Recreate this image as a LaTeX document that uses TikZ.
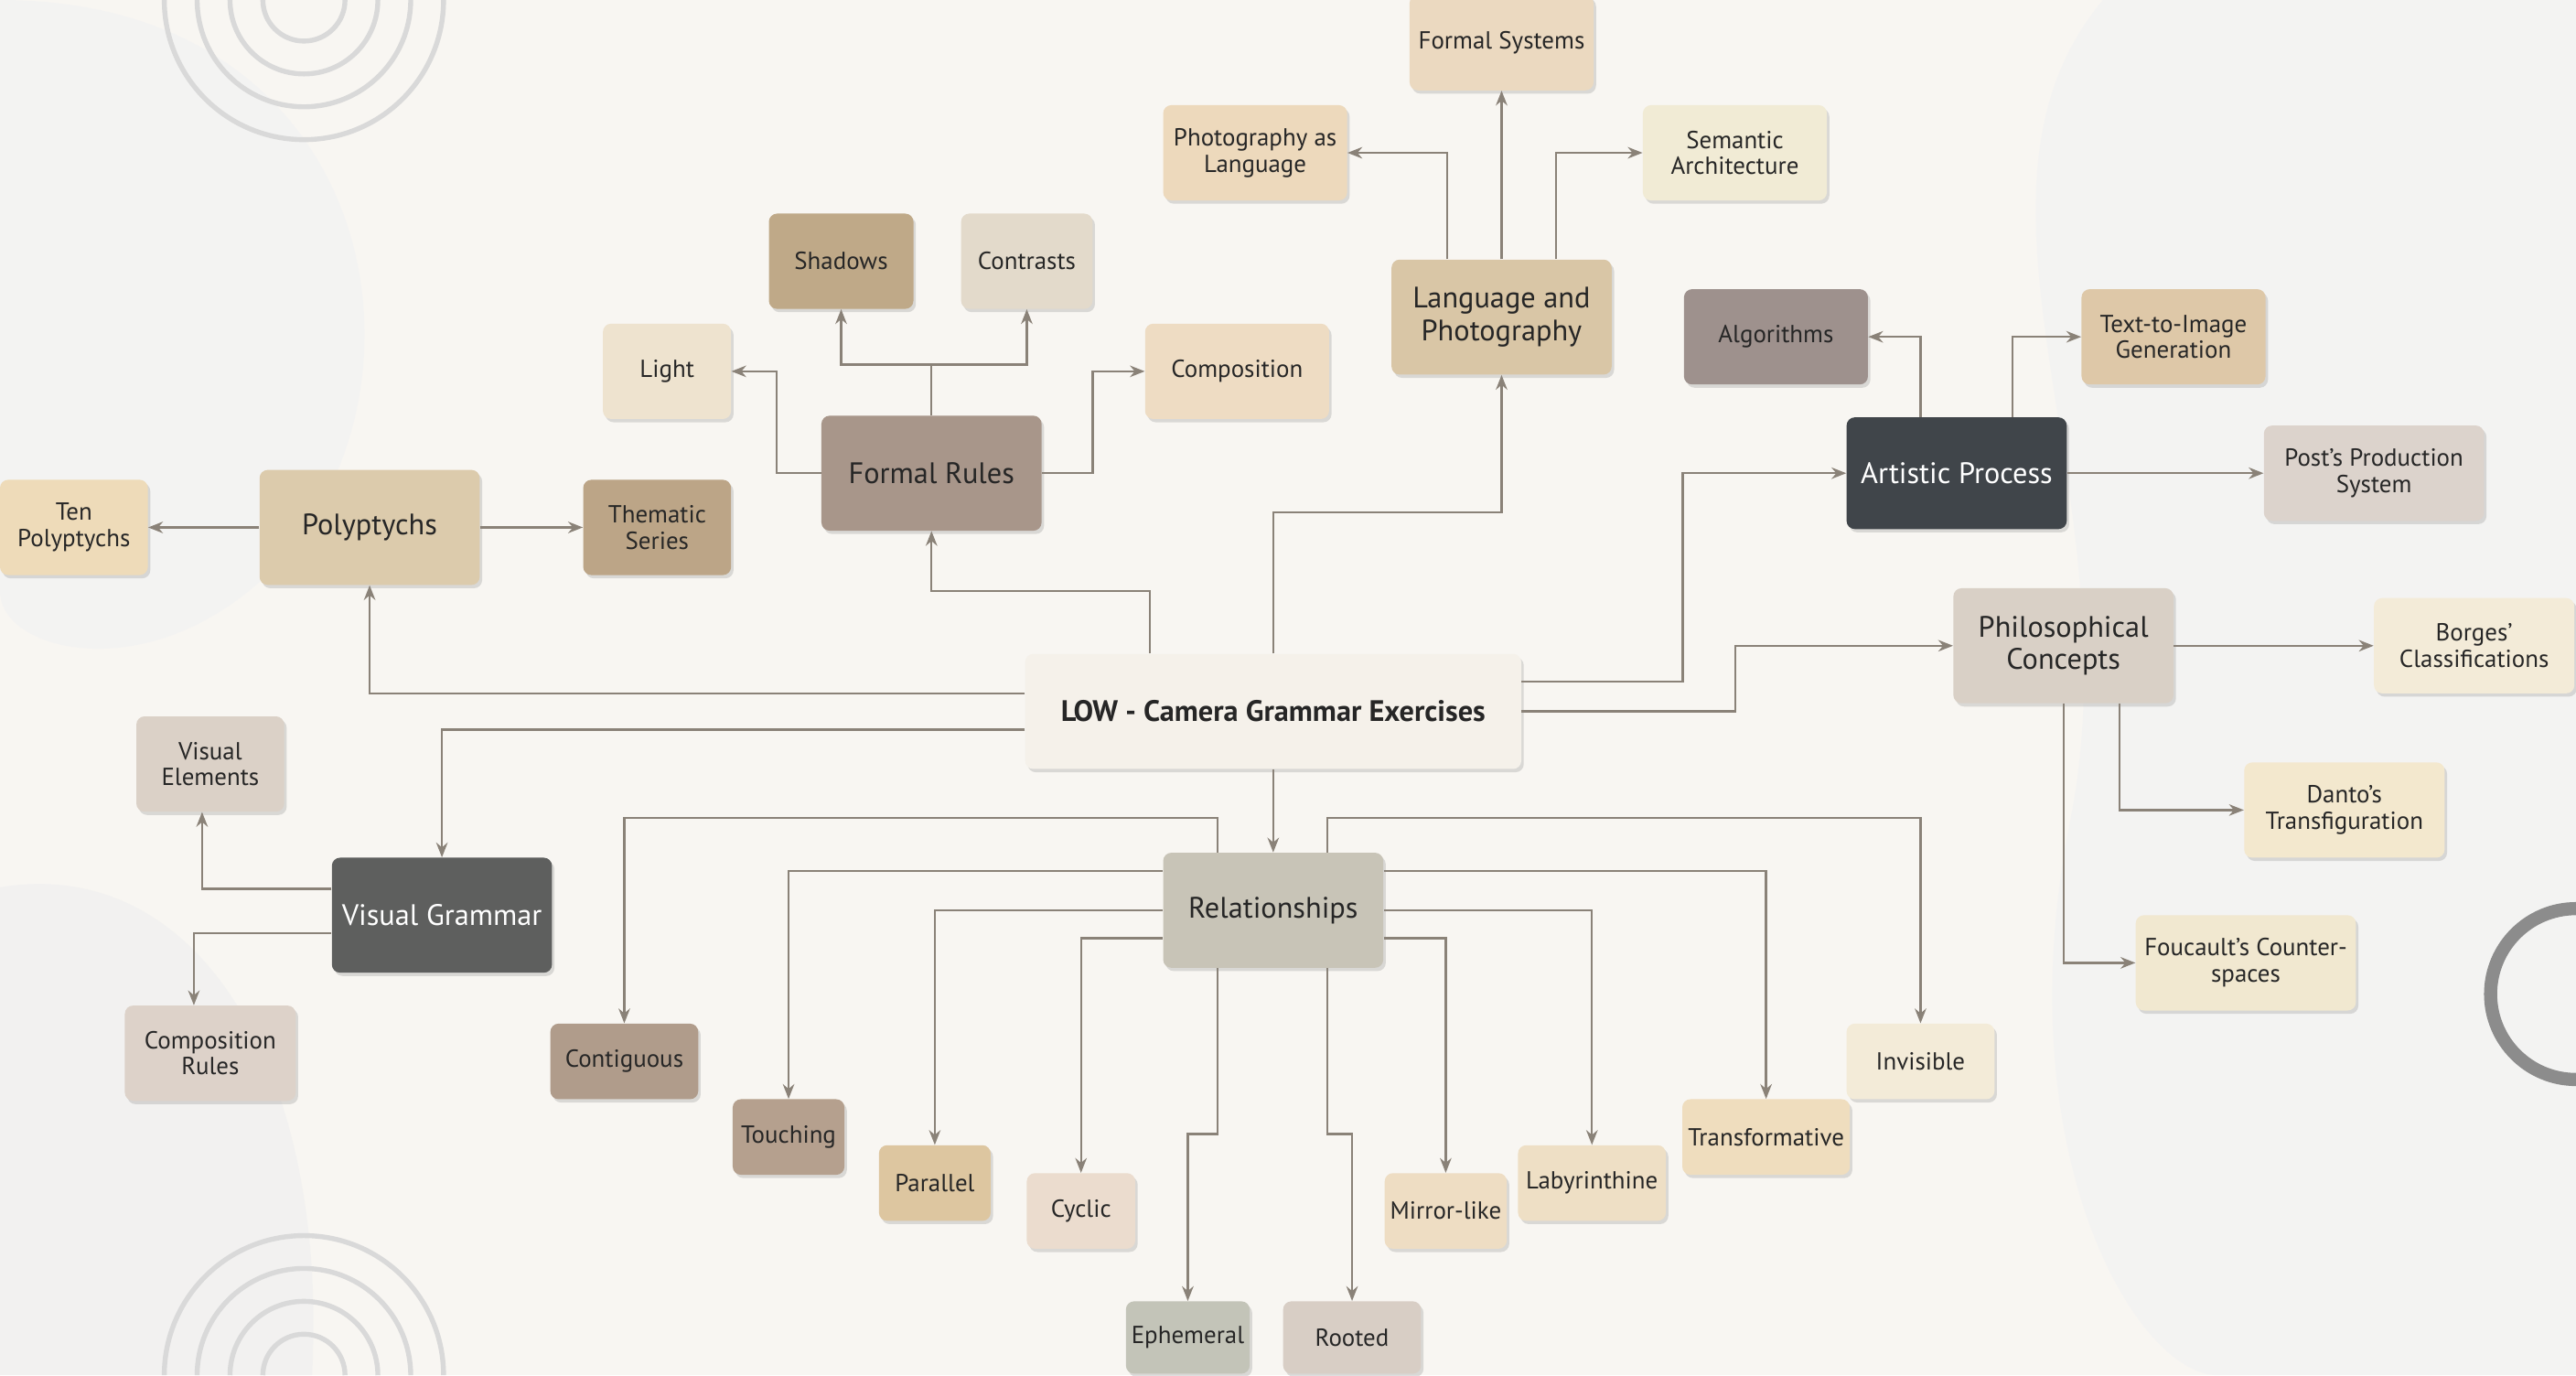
\documentclass[tikz,border=0pt]{standalone}
\usepackage{fontspec}
\setmainfont{PT Sans}
\usetikzlibrary{shadows,arrows.meta}
\definecolor{bg}{HTML}{F8F6F2}
\definecolor{edge}{HTML}{8A8278}
\tikzset{
 hx/.code={\definecolor{c#1}{HTML}{#1}\pgfkeysalso{fill=c#1}},
 box/.style={draw=none,rounded corners=5pt,align=center,font=\fontsize{15}{16}\selectfont,text=black!85,
   drop shadow={shadow xshift=1.5pt,shadow yshift=-2pt,opacity=0.25}},
 big/.style={box,minimum width=134pt,minimum height=70pt,font=\fontsize{18}{20}\selectfont},
 sm/.style={box,minimum height=58pt},
 xs/.style={box,minimum height=46pt},
 con/.style={draw=edge,line width=1.3pt,-{Stealth[length=9pt,width=7pt]}},
}
\begin{document}
\begin{tikzpicture}[x=1pt,y=-1pt]
\fill[bg] (0,0) rectangle (1568,837);
\useasboundingbox (0,0) rectangle (1568,837);
% decorative background
\fill[black!5,opacity=0.7] (0,0) .. controls (260,0) and (280,300) .. (120,380) .. controls (60,410) and (0,390) .. (0,360) -- cycle;
\fill[black!5,opacity=0.7] (1568,0) -- (1280,0) .. controls (1180,120) and (1300,300) .. (1260,500) .. controls (1220,700) and (1300,837) .. (1350,837) -- (1568,837) -- cycle;
\fill[black!6,opacity=0.7] (0,540) .. controls (120,520) and (200,650) .. (190,837) -- (0,837) -- cycle;
\foreach \r in {25,45,65,85}{\draw[black!15,line width=3pt] (185-\r,0) arc (180:0:\r);}
\foreach \r in {25,45,65,85}{\draw[black!15,line width=3pt] (185-\r,837) arc (180:360:\r);}
\draw[black!45,line width=8pt] (1568,605) circle (52);
% nodes
\node[sm,minimum width=112pt,hx=EBD9C0] at (914,26) (fs) {Formal Systems};
\node[sm,minimum width=112pt,hx=EDD9BC] at (764,93) (pal) {Photography as\\Language};
\node[sm,minimum width=112pt,hx=F1EBD5] at (1056,93) (sem) {Semantic\\Architecture};
\node[big,hx=D9C6A6] at (914,193) (lang) {Language and\\Photography};
\node[sm,minimum width=88pt,hx=BFA988] at (512,159) (shad) {Shadows};
\node[sm,minimum width=80pt,hx=E3DACB] at (625,159) (contr) {Contrasts};
\node[sm,minimum width=78pt,hx=EEE3CF] at (406,226) (light) {Light};
\node[sm,minimum width=112pt,hx=EEDCC3] at (753,226) (comp) {Composition};
\node[big,hx=A8968A] at (567,288) (fr) {Formal Rules};
\node[sm,minimum width=112pt,hx=9E918D] at (1081,205) (alg) {Algorithms};
\node[sm,minimum width=112pt,hx=DEC8A8] at (1323,205) (tti) {Text-to-Image\\Generation};
\node[big,minimum height=68pt,hx=40454A,text=white] at (1191,288) (ap) {Artistic Process};
\node[sm,minimum width=134pt,hx=DCD3CC] at (1445,288) (post) {Post's Production\\System};
\node[sm,minimum width=90pt,hx=EEDBB9] at (45,321) (ten) {Ten\\Polyptychs};
\node[big,hx=DCCBAC] at (225,321) (poly) {Polyptychs};
\node[sm,minimum width=90pt,hx=BCA587] at (400,321) (them) {Thematic\\Series};
\node[big,hx=D9D0C6] at (1256,393) (pc) {Philosophical\\Concepts};
\node[sm,minimum width=122pt,hx=F3EBD8] at (1506,393) (borg) {Borges'\\Classifications};
\node[big,minimum width=302pt,hx=F5F1EA,font=\fontsize{18}{20}\selectfont\bfseries] at (775,433) (low) {LOW - Camera Grammar Exercises};
\node[sm,minimum width=90pt,hx=DBD1C7] at (128,465) (ve) {Visual\\Elements};
\node[sm,minimum width=122pt,hx=F3E8CE] at (1427,493) (danto) {Danto's\\Transfiguration};
\node[big,hx=5E5F5E,text=white] at (269,557) (vg) {Visual Grammar};
\node[big,hx=C8C4B7] at (775,554) (rel) {Relationships};
\node[sm,minimum width=134pt,hx=F1E8D0] at (1367,586) (fouc) {Foucault's Counter-\\spaces};
\node[sm,minimum width=104pt,hx=DDD2C9] at (128,641) (cr) {Composition\\Rules};
\node[xs,minimum width=90pt,hx=B09C8B] at (380,646) (contig) {Contiguous};
\node[xs,minimum width=90pt,hx=F3EBD8] at (1169,646) (inv) {Invisible};
\node[xs,minimum width=68pt,hx=B5A08E] at (480,692) (touch) {Touching};
\node[xs,minimum width=102pt,hx=EFDDBE] at (1075,692) (trans) {Transformative};
\node[xs,minimum width=68pt,hx=DDC6A0] at (569,720) (par) {Parallel};
\node[xs,minimum width=90pt,hx=EEDFC5] at (969,720) (lab) {Labyrinthine};
\node[xs,minimum width=66pt,hx=EBDCCE] at (658,737) (cyc) {Cyclic};
\node[xs,minimum width=70pt,hx=EEDDC3] at (880,737) (mir) {Mirror-like};
\node[xs,minimum width=72pt,minimum height=44pt,hx=C3C4B8] at (723,814) (eph) {Ephemeral};
\node[xs,minimum width=84pt,minimum height=44pt,hx=D8CEC5] at (823,814) (root) {Rooted};
% connectors
\draw[con] ([yshift=11pt]low.west) -| (poly.south);
\draw[con] ([yshift=-11pt]low.west) -| (vg.north);
\draw[con] ([xshift=-75pt]low.north) -- ++(0,-38) -| (fr.south);
\draw[con] (low.north) -- ++(0,-86) -| (lang.south);
\draw[con] ([yshift=18pt]low.east) -- ++(98,0) |- (ap.west);
\draw[con] (low.east) -- ++(130,0) |- (pc.west);
\draw[con] (low.south) -- (rel.north);
\draw[con] (poly.west) -- (ten.east);
\draw[con] (poly.east) -- (them.west);
\draw[con] (fr.west) -- ++(-27,0) |- (light.east);
\draw[con] (fr.east) -- ++(31,0) |- (comp.west);
\draw[con] (fr.north) -- ++(0,-31) -| (shad.south);
\draw[con] (fr.north) -- ++(0,-31) -| (contr.south);
\draw[con] ([xshift=-33pt]lang.north) |- (pal.east);
\draw[con] (lang.north) -- (fs.south);
\draw[con] ([xshift=33pt]lang.north) |- (sem.west);
\draw[con] ([xshift=-22pt]ap.north) |- (alg.east);
\draw[con] ([xshift=34pt]ap.north) |- (tti.west);
\draw[con] (ap.east) -- (post.west);
\draw[con] (pc.east) -- (borg.west);
\draw[con] ([xshift=34pt]pc.south) |- (danto.west);
\draw[con] (pc.south) |- (fouc.west);
\draw[con] ([yshift=16pt]vg.west) -| ([xshift=-5pt]ve.south);
\draw[con] ([yshift=-11pt]vg.west) -| ([xshift=-10pt]cr.north);
\draw[con] ([xshift=-34pt]rel.north) -- ++(0,-21) -| (contig.north);
\draw[con] ([yshift=24pt]rel.west) -| (touch.north);
\draw[con] (rel.west) -| (par.north);
\draw[con] ([yshift=-17pt]rel.west) -| (cyc.north);
\draw[con] ([xshift=-34pt]rel.south) -- ++(0,101) -| (eph.north);
\draw[con] ([xshift=33pt]rel.south) -- ++(0,101) -| (root.north);
\draw[con] ([yshift=-17pt]rel.east) -| (mir.north);
\draw[con] (rel.east) -| (lab.north);
\draw[con] ([yshift=24pt]rel.east) -| (trans.north);
\draw[con] ([xshift=33pt]rel.north) -- ++(0,-21) -| (inv.north);
\end{tikzpicture}
\end{document}
